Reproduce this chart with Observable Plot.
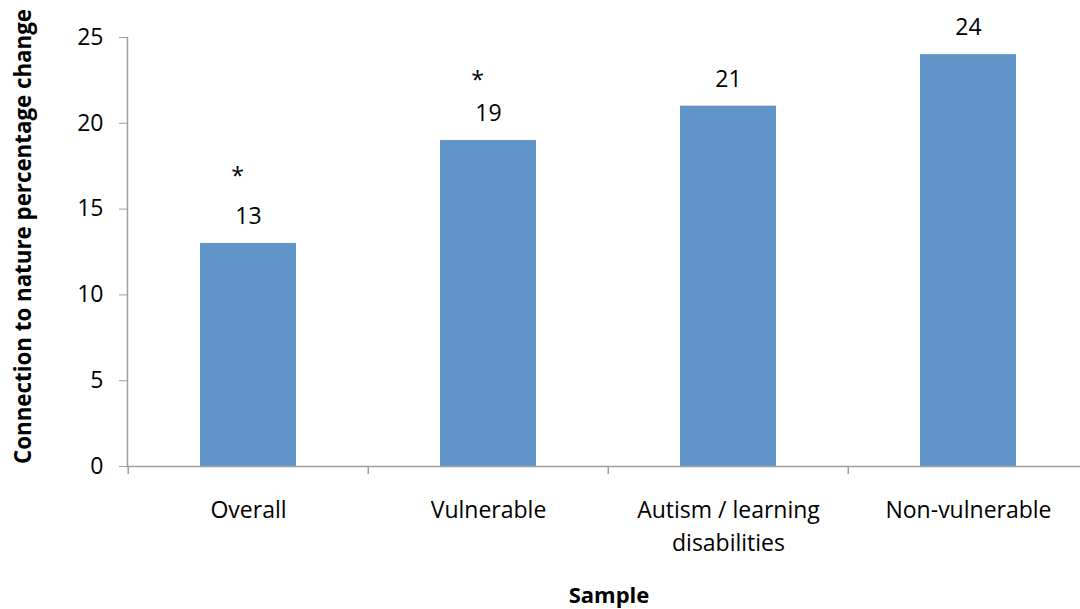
<!DOCTYPE html>
<html><head><meta charset="utf-8">
<script src="https://cdn.jsdelivr.net/npm/d3@7"></script>
<script src="https://cdn.jsdelivr.net/npm/@observablehq/plot@0.6"></script>
<style>html,body{margin:0;padding:0;background:#fff;} #chart{width:1080px;height:609px;}</style>
</head><body><div id="chart"></div>
<script>
const categories = ["Overall", "Vulnerable", "Autism / learning disabilities", "Non-vulnerable"];
const tickLabels = ["Overall", "Vulnerable", "Autism / learning\ndisabilities", "Non-vulnerable"];
const values = [13, 19, 21, 24];
const significant = ["Overall", "Vulnerable"];
const yTicks = [0, 5, 10, 15, 20, 25];
const yTitle = "Connection to nature percentage change";
const xTitle = "Sample";

const data = categories.map((c, i) => ({category: c, label: tickLabels[i], value: values[i]}));
const axisColor = "#a0a0a0";
const barColor = "#6195c9";
const xRange = [127, 1089];
const step = (xRange[1] - xRange[0]) / categories.length;

const chart = Plot.plot({
  width: 1080, height: 609,
  marginLeft: 127, marginRight: 0, marginTop: 37, marginBottom: 143,
  style: {fontFamily: "'Open Sans', sans-serif", fontSize: "23px", background: "#fff", color: "#000"},
  x: {domain: categories, range: xRange, paddingInner: 0.6, paddingOuter: 0.3, axis: null},
  y: {domain: [0, 25], axis: null},
  marks: [
    Plot.barY(data, {x: "category", y: "value", fill: barColor}),
    Plot.frame({anchor: "left", stroke: axisColor, strokeWidth: 1.5}),
    Plot.ruleY([0], {stroke: axisColor, strokeWidth: 1.5}),
    Plot.axisY({ticks: yTicks, tickSize: 8, tickPadding: 16, stroke: axisColor, fill: "#000", fontSize: 23, label: null, tickFormat: d => String(d)}),
    Plot.ruleX(data, {x: "category", y1: 0, y2: 0, insetBottom: -8, dx: -step / 2, stroke: axisColor, strokeWidth: 1.5}),
    Plot.text(data, {x: "category", text: "label", frameAnchor: "bottom", lineAnchor: "top", dy: 27, lineHeight: 1.47, fontSize: 23}),
    Plot.text(data, {x: "category", y: "value", text: d => String(d.value), dy: -27, fontSize: 23}),
    Plot.text(data.filter(d => d.category === significant[0]), {x: "category", y: "value", text: () => "*", dx: -11, dy: -67, fontSize: 23}),
    Plot.text(data.filter(d => d.category === significant[1]), {x: "category", y: "value", text: () => "*", dx: -11, dy: -60, fontSize: 23}),
    Plot.text([xTitle], {frameAnchor: "bottom", text: d => d, lineAnchor: "top", dy: 121, dx: 5, fontWeight: "bold", fontSize: 22}),
    Plot.text([yTitle], {frameAnchor: "left", text: d => d, textAnchor: "middle", lineAnchor: "middle", rotate: -90, dx: -104, dy: -15.5, fontWeight: "bold", fontSize: 22.3})
  ]
});
document.getElementById("chart").appendChild(chart);
</script>
</body></html>
